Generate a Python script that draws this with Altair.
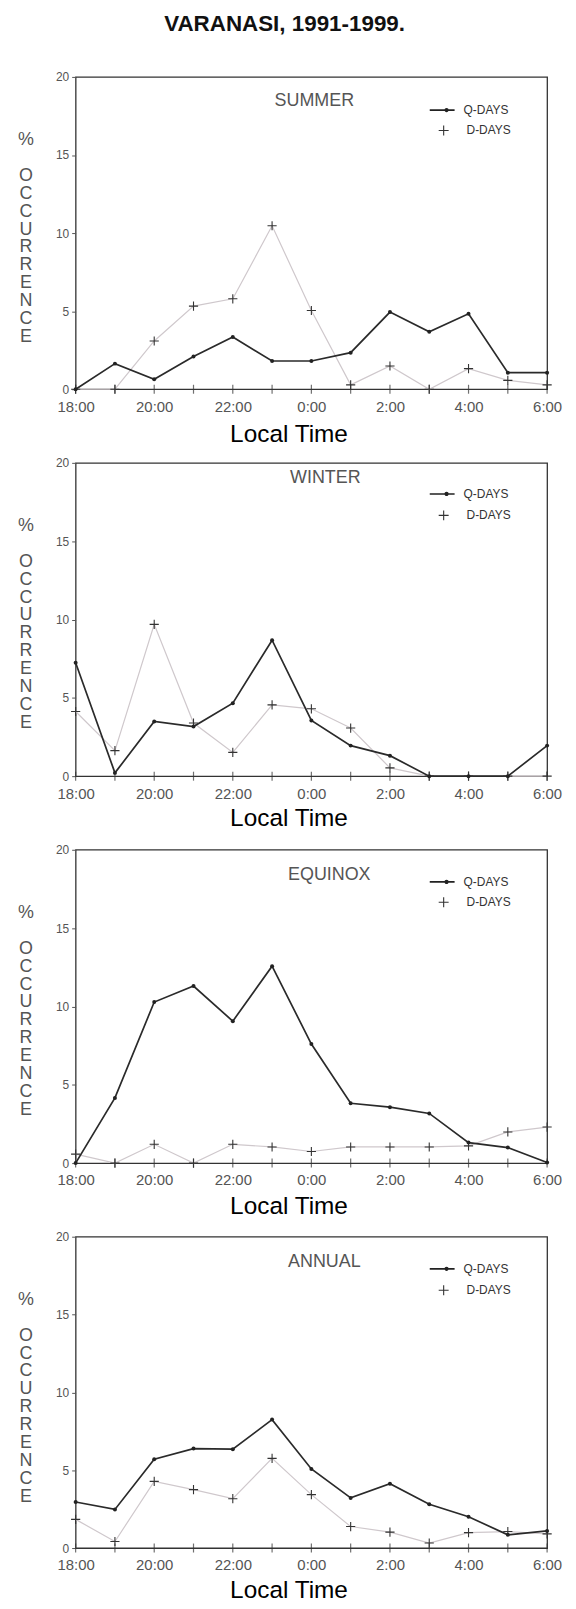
import altair as alt
import pandas as pd

FONT = "Liberation Sans"

# ---------------- data ----------------
hours = list(range(18, 31))            # 18:00 ... 6:00 (next day) as 18..30
tick_hours = [18, 20, 22, 24, 26, 28, 30]
tick_labels = ["18:00", "20:00", "22:00", "0:00", "2:00", "4:00", "6:00"]
baseline = [0] * len(hours)

seasons = ["SUMMER", "WINTER", "EQUINOX", "ANNUAL"]
series_names = ["Q-DAYS", "D-DAYS"]

summer_q = [0, 1.64, 0.64, 2.09, 3.34, 1.81, 1.81, 2.34, 4.94, 3.68, 4.83, 1.06, 1.06]
summer_d = [0, 0, 3.09, 5.32, 5.79, 10.47, 5.04, 0.28, 1.49, 0, 1.32, 0.57, 0.28]
winter_q = [7.24, 0.21, 3.49, 3.17, 4.66, 8.68, 3.56, 1.95, 1.31, 0, 0, 0, 1.95]
winter_d = [4.13, 1.63, 9.69, 3.39, 1.52, 4.55, 4.30, 3.07, 0.53, 0, 0, 0, 0]
equinox_q = [0, 4.16, 10.28, 11.30, 9.06, 12.57, 7.60, 3.82, 3.57, 3.17, 1.31, 0.99, 0.04]
equinox_d = [0.57, 0, 1.2, 0, 1.2, 1.03, 0.74, 1.03, 1.03, 1.03, 1.1, 1.99, 2.3]
annual_q = [2.96, 2.48, 5.71, 6.39, 6.35, 8.25, 5.08, 3.22, 4.13, 2.81, 2.01, 0.85, 1.1]
annual_d = [1.84, 0.42, 4.28, 3.75, 3.17, 5.76, 3.43, 1.38, 1.02, 0.32, 0.99, 1.06, 0.91]

q_values = [summer_q, winter_q, equinox_q, annual_q]
d_values = [summer_d, winter_d, equinox_d, annual_d]

y_title = ["%", "\u2800", "O", "C", "C", "U", "R", "R", "E", "N", "C", "E"]

# ---------------- layout / style ----------------
W = 474
heights = [314, 315, 315, 313]
label_dy = [22, 13, 23, 23]
label_dx = [3, 14, 18, 13]
legend_q_y = [31, 29, 30, 30]
legend_d_y = [52, 51, 51, 52]
xtitle_y = [53, 50, 51, 50]

PLUS = "M-1,0H1M0,-1V1"
QSYM = ("M-1.47,-0.1H1.47V0.1H-1.47Z"
        "M0.77,0A0.25,0.25,0,1,1,0.27,0A0.25,0.25,0,1,1,0.77,0Z")

label_js = "[" + ",".join("'%s'" % t for t in tick_labels) + "]"
label_expr = label_js + "[(datum.value - %d) / 2]" % tick_hours[0]


def panel(i):
    dfq = pd.DataFrame({"hour": hours, "value": q_values[i], "series": series_names[0]})
    dfd = pd.DataFrame({"hour": hours, "value": d_values[i], "series": series_names[1]})
    dft = pd.DataFrame({"hour": hours, "value": baseline})

    x = alt.X(
        "hour:Q",
        scale=alt.Scale(domain=[hours[0], hours[-1]], nice=False, zero=False),
        axis=alt.Axis(
            values=tick_hours, labelExpr=label_expr, ticks=False, tickSize=0,
            labelPadding=10, labelFontSize=15, labelColor="#555", labelFlush=False,
            labelOverlap=False, labelFont=FONT,
            title="Local Time", titleFont=FONT, titleFontSize=24.5, titleFontWeight="normal",
            titleColor="#000", titleX=214, titleY=xtitle_y[i], titleAlign="center",
            titleBaseline="alphabetic", grid=False, domain=False,
        ),
    )
    y = alt.Y(
        "value:Q",
        scale=alt.Scale(domain=[0, 20], nice=False),
        axis=alt.Axis(
            values=[0, 5, 10, 15, 20], tickSize=4, tickColor="#555", labelPadding=3,
            labelFontSize=12, labelColor="#555", labelFont=FONT,
            title=y_title, titleAngle=0, titleFont=FONT, titleFontSize=18,
            titleFontWeight="normal", titleColor="#555", titleLineHeight=18,
            titleX=-50.5, titleY=63, titleAlign="center", titleBaseline="middle",
            grid=False, domain=False,
        ),
    )

    dline = alt.Chart(dfd).mark_line(color="#cfc8cc", strokeWidth=1.2).encode(x=x, y=y)
    qline = alt.Chart(dfq).mark_line(color="#2a2a2a", strokeWidth=1.7).encode(x=x, y=y)
    ticks = alt.Chart(dft).mark_tick(
        orient="vertical", size=9, thickness=1.2, color="#333"
    ).encode(x=x, y=y)
    dpts = alt.Chart(dfd).mark_point(
        filled=False, size=85, color="#333", strokeWidth=1.1, opacity=1
    ).encode(
        x=x, y=y,
        shape=alt.Shape(
            "series:N",
            scale=alt.Scale(domain=[series_names[1]], range=[PLUS]),
            legend=alt.Legend(
                orient="none", legendX=364, legendY=legend_d_y[i] - 4.2, title=None,
                symbolSize=100, symbolStrokeWidth=1.1, symbolStrokeColor="#333",
                labelFont=FONT, labelFontSize=12, labelColor="#333", labelOffset=17,
                padding=0,
            ),
        ),
    )
    qpts = alt.Chart(dfq).mark_point(filled=True, size=16, opacity=1).encode(
        x=x, y=y,
        color=alt.Color(
            "series:N",
            scale=alt.Scale(domain=[series_names[0]], range=["#222"]),
            legend=alt.Legend(
                orient="none", legendX=360, legendY=legend_q_y[i] - 6.2, title=None,
                symbolType=QSYM, symbolSize=289, symbolStrokeWidth=0,
                labelFont=FONT, labelFontSize=12, labelColor="#333", labelOffset=13,
                padding=0,
            ),
        ),
    )

    return alt.layer(dline, qline, ticks, dpts, qpts).properties(
        width=W, height=heights[i],
        title=alt.TitleParams(
            seasons[i], frame="group", anchor="middle", dx=label_dx[i],
            offset=-(label_dy[i] + 26), baseline="middle", font=FONT,
            fontSize=18, fontWeight="normal", color="#555",
        ),
    )


chart = alt.vconcat(
    *[panel(i) for i in range(4)], spacing=74, bounds="flush"
).resolve_scale(
    color="independent", shape="independent"
).resolve_legend(
    color="independent", shape="independent"
).properties(
    title=alt.TitleParams(
        "VARANASI, 1991-1999.", font=FONT, fontSize=22.5, fontWeight="bold",
        color="#111", anchor="middle", dx=-5, offset=35,
    ),
    padding={"left": 8, "top": 0, "right": 5, "bottom": 0},
).configure_view(stroke="#333", strokeWidth=1.3)

chart.save("out.html", embed_options={"renderer": "svg", "actions": False})
